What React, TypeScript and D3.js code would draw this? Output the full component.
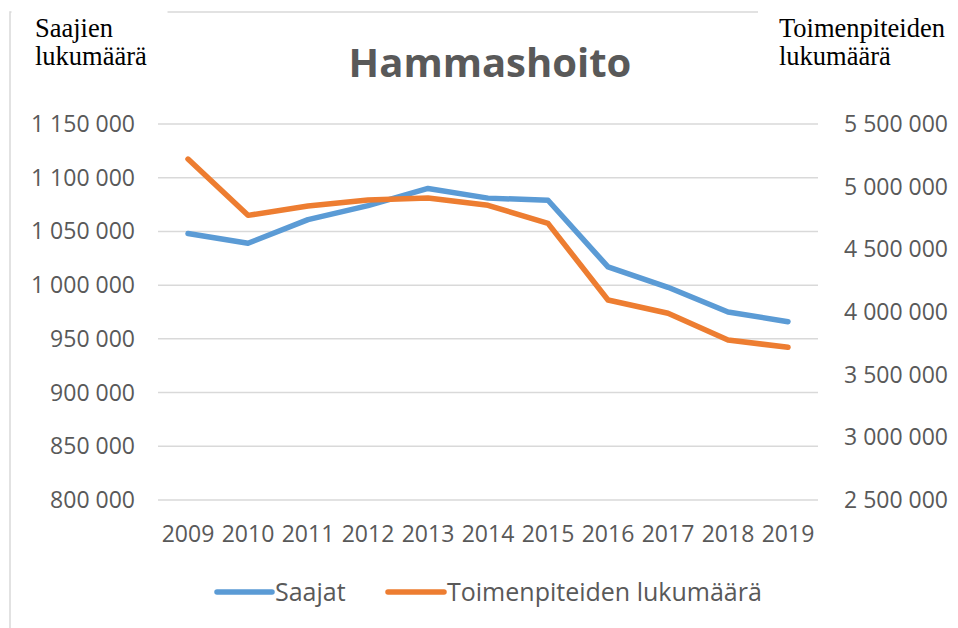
import * as d3 from "d3";

const years = ["2009", "2010", "2011", "2012", "2013", "2014", "2015", "2016", "2017", "2018", "2019"];
// Saajat (left axis)
const saajat = [1048000, 1039000, 1061000, 1074000, 1090000, 1081000, 1079000, 1017000, 998000, 975000, 966000];
// Toimenpiteiden lukumäärä (right axis)
const toimenpiteet = [5220000, 4771000, 4846000, 4893000, 4909000, 4851000, 4707000, 4096000, 3990000, 3777000, 3718000];
const leftTicks = [800000, 850000, 900000, 950000, 1000000, 1050000, 1100000, 1150000];
const rightTicks = [2500000, 3000000, 3500000, 4000000, 4500000, 5000000, 5500000];

const W = 958;
const H = 628;
const plot = { left: 158, right: 818, top: 124, bottom: 500 };
const BLUE = "#5b9bd5";
const ORANGE = "#ed7d31";
const GRID = "#d9d9d9";
const TEXT = "#595959";
const SANS = "'Open Sans', 'Noto Sans', sans-serif";
const SERIF = "'Liberation Serif', 'DejaVu Serif', serif";

const fmt = (v: number) => d3.format(",")(v).replace(/,/g, " ");

export default function App() {
  const x = d3.scalePoint<string>().domain(years).range([plot.left, plot.right]).padding(0.5);
  const yL = d3.scaleLinear().domain([800000, 1150000]).range([plot.bottom, plot.top]);
  const yR = d3.scaleLinear().domain([2500000, 5500000]).range([plot.bottom, plot.top]);

  const lineL = d3
    .line<number>()
    .x((_, i) => x(years[i]) as number)
    .y((d) => yL(d));
  const lineR = d3
    .line<number>()
    .x((_, i) => x(years[i]) as number)
    .y((d) => yR(d));

  return (
    <svg width={W} height={H} style={{ position: "absolute", left: 0, top: 0, background: "#fff" }}>
      {/* chart border */}
      <rect x={10} y={12} width={W + 20} height={H + 20} fill="#fff" stroke={GRID} strokeWidth={1.5} />

      {/* gridlines */}
      {leftTicks.map((t) => (
        <line key={t} x1={plot.left} x2={plot.right} y1={yL(t)} y2={yL(t)} stroke={GRID} strokeWidth={1.5} />
      ))}

      {/* left ticks */}
      {leftTicks.map((t) => (
        <text key={t} x={135} y={yL(t) + 8} textAnchor="end" fontFamily={SANS} fontSize={23} fill={TEXT}>
          {fmt(t)}
        </text>
      ))}

      {/* right ticks */}
      {rightTicks.map((t) => (
        <text key={t} x={844} y={yR(t) + 8} textAnchor="start" fontFamily={SANS} fontSize={23} fill={TEXT}>
          {fmt(t)}
        </text>
      ))}

      {/* years */}
      {years.map((yr) => (
        <text key={yr} x={x(yr)} y={542} textAnchor="middle" fontFamily={SANS} fontSize={23} fill={TEXT}>
          {yr}
        </text>
      ))}

      {/* series */}
      <path d={lineL(saajat) || ""} fill="none" stroke={BLUE} strokeWidth={5.5} strokeLinejoin="round" strokeLinecap="round" />
      <path d={lineR(toimenpiteet) || ""} fill="none" stroke={ORANGE} strokeWidth={5.5} strokeLinejoin="round" strokeLinecap="round" />

      {/* title */}
      <text x={490} y={77} textAnchor="middle" fontFamily={SANS} fontWeight="bold" fontSize={40} fill={TEXT}>
        Hammashoito
      </text>

      {/* axis titles with white backgrounds */}
      <rect x={11.5} y={0} width={156} height={72} fill="#fff" />
      <text fontFamily={SERIF} fontSize={26.5} fill="#000">
        <tspan x={35} y={37}>Saajien</tspan>
        <tspan x={35} y={65}>lukumäärä</tspan>
      </text>
      <rect x={758} y={0} width={200} height={75} fill="#fff" />
      <text fontFamily={SERIF} fontSize={26.5} fill="#000">
        <tspan x={779} y={37}>Toimenpiteiden</tspan>
        <tspan x={779} y={65}>lukumäärä</tspan>
      </text>

      {/* legend */}
      <line x1={217} x2={272} y1={592} y2={592} stroke={BLUE} strokeWidth={5.5} strokeLinecap="round" />
      <text x={275} y={601} fontFamily={SANS} fontSize={25} fill={TEXT}>
        Saajat
      </text>
      <line x1={388} x2={444} y1={592} y2={592} stroke={ORANGE} strokeWidth={5.5} strokeLinecap="round" />
      <text x={447} y={601} fontFamily={SANS} fontSize={25} fill={TEXT}>
        Toimenpiteiden lukumäärä
      </text>
    </svg>
  );
}
